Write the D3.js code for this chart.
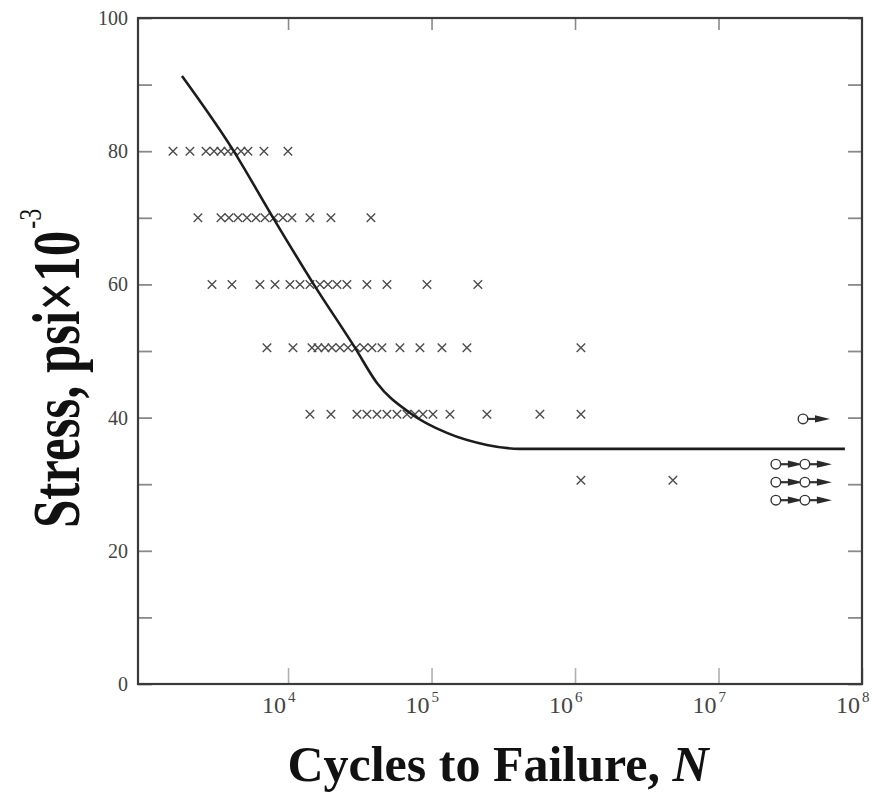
<!DOCTYPE html>
<html>
<head>
<meta charset="utf-8">
<script src="https://cdn.jsdelivr.net/npm/d3@7"></script>
<style>
  body { margin: 0; background: #fff; }
  svg { display: block; }
</style>
</head>
<body>
<svg id="chart" width="884" height="795"></svg>
<script>
// S-N fatigue data: stress level (psi x 10^-3) and cycles to failure at each level
const stressLevels = [80, 70, 60, 50.5, 40.5, 30.6];
const failureCycles = [
  [1578, 2071, 2679, 3048, 3407, 3812, 4198, 4698, 5255, 6793, 9980],
  [2355, 3407, 3874, 4477, 5171, 5976, 6905, 7978, 9210, 10640, 14210, 19900, 37830],
  [2951, 4064, 6370, 8110, 10310, 12110, 14210, 16680, 18970, 21920, 25720, 35450, 48890, 92890, 210400],
  [7129, 10820, 14680, 16150, 18070, 20220, 23000, 26140, 29730, 33810, 38450, 45100, 60220, 83030, 118200, 176400, 1099000],
  [14210, 19900, 30200, 35450, 41640, 48890, 57410, 67450, 76620, 87100, 102300, 134400, 243200, 569100, 1099000],
  [1099000, 4810000]
];

// Run-outs: specimens stopped without failure
const runoutStress = [39.8, 33, 30.3, 27.6];
const runoutCycles = [[3.88e7], [2.51e7, 4.0e7], [2.51e7, 4.0e7], [2.51e7, 4.0e7]];

// Mean S-N curve with endurance limit
const curveCycles = [1822, 4130, 7722, 14910, 29250, 41640, 70700, 128000, 243200, 413000, 7.6e7];
const curveStress = [91.3, 80.2, 70.3, 60.2, 50.5, 45.2, 40.7, 37.7, 35.9, 35.3, 35.3];

// Axis ticks
const stressTicks = [0, 10, 20, 30, 40, 50, 60, 70, 80, 90, 100];
const stressLabels = [0, 20, 40, 60, 80, 100];
const cycleTicks = [1e4, 1e5, 1e6, 1e7, 1e8];
const cycleExponents = ["4", "5", "6", "7", "8"];

const svg = d3.select("#chart");
svg.append("rect").attr("width", 884).attr("height", 795).attr("fill", "#fff");

const x = d3.scaleLog().domain([900, 1e8]).range([138, 862]);
const y = d3.scaleLinear().domain([0, 100]).range([684, 18]);

const serif = "'Liberation Serif', 'Times New Roman', serif";
const axisColor = "#3a3a3a";
const tickColor = "#8a8a8a";

// Left axis with stress labels
const leftAxis = svg.append("g")
  .attr("transform", `translate(${x.range()[0]},0)`)
  .call(d3.axisLeft(y).tickValues(stressTicks).tickSizeInner(-14).tickSizeOuter(0).tickPadding(10)
    .tickFormat(d => stressLabels.includes(d) ? String(d) : ""));
leftAxis.select(".domain").remove();
leftAxis.selectAll(".tick line").attr("stroke", tickColor).attr("stroke-width", 1.8);
leftAxis.selectAll(".tick text")
  .attr("font-family", serif).attr("font-size", 20).attr("fill", "#444");

// Right axis (ticks only)
const rightAxis = svg.append("g")
  .attr("transform", `translate(${x.range()[1]},0)`)
  .call(d3.axisRight(y).tickValues(stressTicks).tickSizeInner(-14).tickSizeOuter(0).tickFormat(""));
rightAxis.select(".domain").remove();
rightAxis.selectAll(".tick line").attr("stroke", tickColor).attr("stroke-width", 1.8);

// Bottom axis with power-of-ten labels
const bottomAxis = svg.append("g")
  .attr("transform", `translate(0,${y(0)})`)
  .call(d3.axisBottom(x).tickValues(cycleTicks).tickSizeInner(-16).tickSizeOuter(0).tickFormat(""));
bottomAxis.select(".domain").remove();
bottomAxis.selectAll(".tick line").attr("stroke", "#b0b0b0").attr("stroke-width", 1.6);
bottomAxis.selectAll(".tick text")
  .attr("y", 29).attr("dy", null).attr("x", 7)
  .attr("text-anchor", "end")
  .attr("font-family", serif).attr("font-size", 24).attr("fill", "#444")
  .each(function(d, i) {
    const t = d3.select(this);
    t.append("tspan").text("10");
    t.append("tspan").attr("dy", -11).attr("dx", 2).attr("font-size", 15).text(cycleExponents[i]);
  });

// Top axis (ticks only)
const topAxis = svg.append("g")
  .attr("transform", `translate(0,${y(100)})`)
  .call(d3.axisTop(x).tickValues(cycleTicks.slice(0, 4)).tickSizeInner(-12).tickSizeOuter(0).tickFormat(""));
topAxis.select(".domain").remove();
topAxis.selectAll(".tick line").attr("stroke", tickColor).attr("stroke-width", 1.6);

// Plot frame
svg.append("rect")
  .attr("x", x.range()[0]).attr("y", y(100))
  .attr("width", x.range()[1] - x.range()[0]).attr("height", y(0) - y(100))
  .attr("fill", "none").attr("stroke", axisColor).attr("stroke-width", 2.2);

// Failure points drawn as crosses
const crossSymbol = {
  draw(ctx, size) {
    const r = Math.sqrt(size) / 2;
    ctx.moveTo(-r, -r); ctx.lineTo(r, r);
    ctx.moveTo(r, -r); ctx.lineTo(-r, r);
  }
};
const failures = stressLevels.flatMap((s, i) => failureCycles[i].map(n => ({ n, s })));
svg.append("g").selectAll("path")
  .data(failures)
  .join("path")
  .attr("transform", d => `translate(${x(d.n)},${y(d.s)})`)
  .attr("d", d3.symbol().type(crossSymbol).size(72))
  .attr("fill", "none").attr("stroke", "#4d4d4d").attr("stroke-width", 1.4);

// S-N curve
const curveData = curveCycles.map((n, i) => ({ n, s: curveStress[i] }));
svg.append("path")
  .datum(curveData)
  .attr("d", d3.line().x(d => x(d.n)).y(d => y(d.s)).curve(d3.curveMonotoneX))
  .attr("fill", "none").attr("stroke", "#1c1c1c").attr("stroke-width", 2.6);

// Run-outs: open circle with an arrow pointing to longer life
const runouts = runoutStress.flatMap((s, i) => runoutCycles[i].map(n => ({ n, s })));
const ro = svg.append("g").selectAll("g")
  .data(runouts)
  .join("g")
  .attr("transform", d => `translate(${x(d.n)},${y(d.s)})`);
ro.append("circle").attr("r", 4.8)
  .attr("fill", "#fff").attr("stroke", "#333").attr("stroke-width", 1.4);
ro.append("line").attr("x1", 4.8).attr("x2", 16).attr("y1", 0).attr("y2", 0)
  .attr("stroke", "#333").attr("stroke-width", 2.2);
ro.append("path").attr("d", "M12,-3.6 L27,0 L12,3.6 Z").attr("fill", "#2a2a2a");

// Axis titles
svg.append("text")
  .attr("x", 498).attr("y", 781)
  .attr("text-anchor", "middle")
  .attr("font-family", serif).attr("font-weight", "bold").attr("font-size", 50).attr("fill", "#111")
  .call(t => {
    t.append("tspan").text("Cycles to Failure, ");
    t.append("tspan").attr("font-style", "italic").text("N");
  });

svg.append("text")
  .attr("transform", "translate(79,528) rotate(-90) scale(1,1.32)")
  .attr("text-anchor", "start")
  .attr("font-family", serif).attr("font-weight", "bold").attr("font-size", 51).attr("fill", "#111")
  .call(t => {
    t.append("tspan").text("Stress, psi\u00d710");
    t.append("tspan").attr("dy", -29).attr("dx", 2).attr("font-size", 24).attr("font-weight", "normal").text("-3");
  });
</script>
</body>
</html>
